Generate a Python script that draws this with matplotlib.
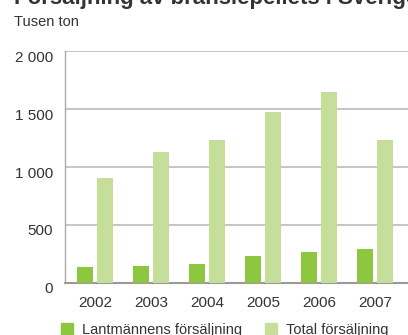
import matplotlib
matplotlib.use("Agg")
import matplotlib.pyplot as plt
import matplotlib.transforms as mtransforms
from matplotlib.patches import Patch

plt.rcParams['font.family'] = ['Liberation Sans', 'DejaVu Sans']

# Datos (tusen ton)
years = ["2002", "2003", "2004", "2005", "2006", "2007"]
lantmannen = [136, 144, 162, 231, 265, 291]
total = [905, 1130, 1233, 1475, 1648, 1233]
yticks = [0, 500, 1000, 1500, 2000]
ytick_labels = ["0", "500", "1 000", "1 500", "2 000"]

MORK = "#8DC63F"
LJUS = "#C5DF9B"
TEXT = "#333333"
GRID = "#BBBBBB"

W, H = 408, 335
fig = plt.figure(figsize=(W / 100, H / 100), dpi=100)
ax = fig.add_axes([65 / W, (H - 282.7) / H, 1 - 65 / W, (282.7 - 51.3) / H])

x = list(range(len(years)))
bw = 0.2857
off = 0.1786
ax.bar([i - off for i in x], lantmannen, width=bw, color=MORK, zorder=3)
ax.bar([i + off for i in x], total, width=bw, color=LJUS, zorder=3)

ax.set_xlim(-0.536, 5.59)
ax.set_ylim(0, 2000)
ax.set_yticks(yticks)
ax.set_yticklabels(ytick_labels)
ax.set_xticks(x)
ax.set_xticklabels(years)
ax.tick_params(axis="both", length=0, labelsize=11, labelcolor=TEXT)
ax.tick_params(axis="y", pad=8.5)
ax.tick_params(axis="x", pad=9.5)

# bajar un poco las etiquetas del eje y
desp = mtransforms.ScaledTranslation(0, -5 / 100, fig.dpi_scale_trans)
for lab in ax.get_yticklabels():
    lab.set_transform(lab.get_transform() + desp)

ax.grid(axis="y", color=GRID, linewidth=1.2, zorder=0)
for s in ["top", "right"]:
    ax.spines[s].set_visible(False)
ax.spines["left"].set_color("#AAAAAA")
ax.spines["left"].set_linewidth(1.0)
ax.spines["bottom"].set_color("#999999")
ax.spines["bottom"].set_linewidth(1.5)

# titulo cortado arriba y texto de unidad
fig.text(14 / W, 1 - 4 / H, "Försäljning av bränslepellets i Sverige", fontsize=16,
         fontweight="bold", color=TEXT, va="baseline", ha="left")
fig.text(14 / W, 1 - 25.5 / H, "Tusen ton", fontsize=10.5, color=TEXT, va="baseline", ha="left")

handles = [Patch(color=MORK), Patch(color=LJUS)]
fig.legend(handles, ["Lantmännens försäljning", "Total försäljning"], ncol=2,
           loc="lower left", bbox_to_anchor=(61 / W, -2 / H), frameon=False,
           fontsize=10.5, handlelength=0.82, handleheight=0.82, handletextpad=0.6,
           columnspacing=1.6, borderpad=0, borderaxespad=0, labelcolor=TEXT)

fig.savefig("out.png", dpi=100)
